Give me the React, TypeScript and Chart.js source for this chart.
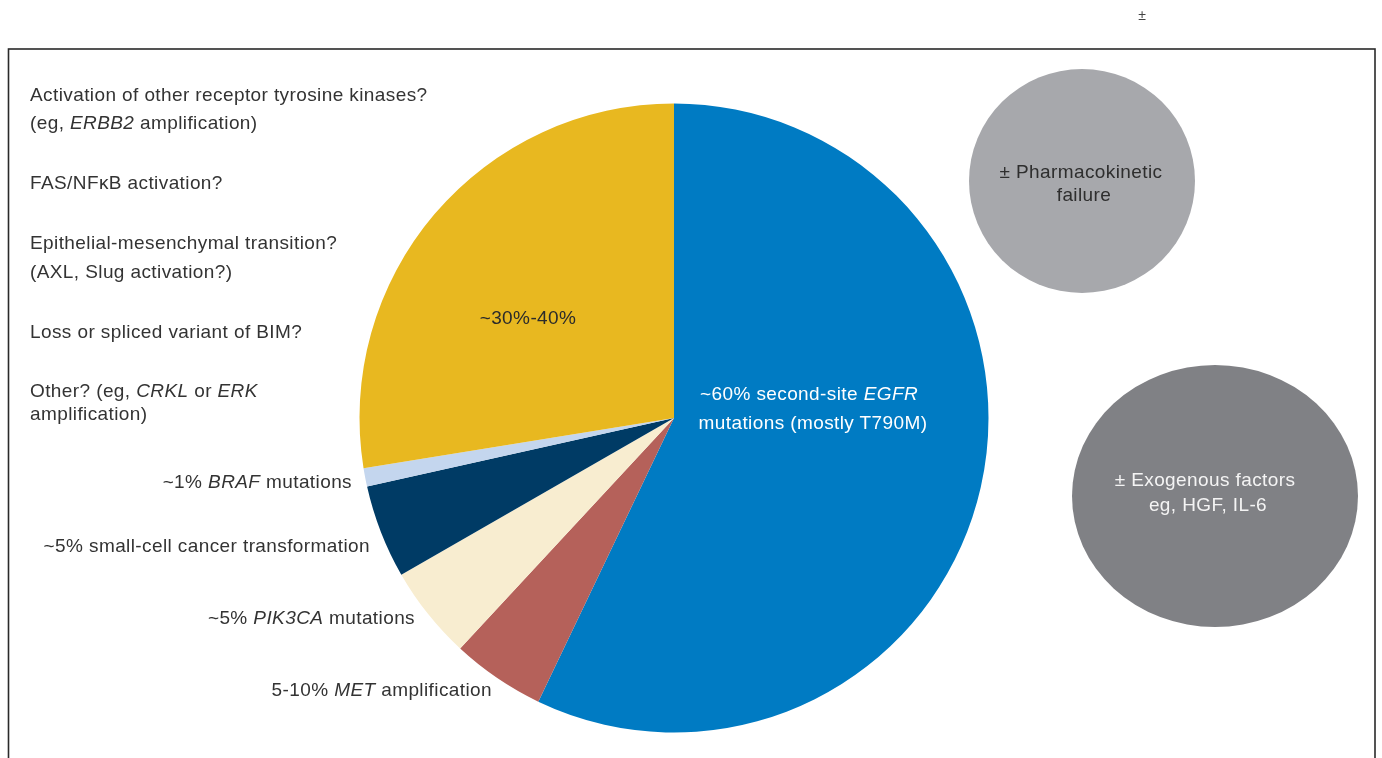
import React, { useEffect, useRef } from "react";
import { Chart, registerables } from "chart.js";

Chart.register(...registerables);

// ---- data ----
const sliceLabels = [
  "Second-site EGFR mutations (mostly T790M)",
  "MET amplification",
  "PIK3CA mutations",
  "Small-cell cancer transformation",
  "BRAF mutations",
  "Unknown (~30%-40%)",
];
const sliceValues = [57.1, 4.8, 4.8, 4.8, 0.95, 27.55];
const sliceColors = ["#007BC3", "#B5615A", "#F8EDD0", "#003B65", "#C4D6EE", "#E8B820"];

const FONT = '"Liberation Sans", Arial, sans-serif';

type Label = { html: string; x: number; y: number; align: "left" | "right" | "center"; color?: string; size?: number };

const annotations: Label[] = [
  { html: "Activation of other receptor tyrosine kinases?", x: 30, y: 95, align: "left" },
  { html: "(eg, <i>ERBB2</i> amplification)", x: 30, y: 123, align: "left" },
  { html: "FAS/NF\u03BAB activation?", x: 30, y: 183, align: "left" },
  { html: "Epithelial-mesenchymal transition?", x: 30, y: 243, align: "left" },
  { html: "(AXL, Slug activation?)", x: 30, y: 272, align: "left" },
  { html: "Loss or spliced variant of BIM?", x: 30, y: 332, align: "left" },
  { html: "Other? (eg, <i>CRKL</i> or <i>ERK</i>", x: 30, y: 391, align: "left" },
  { html: "amplification)", x: 30, y: 414, align: "left" },
  { html: "~1% <i>BRAF</i> mutations", x: 352, y: 482, align: "right" },
  { html: "~5% small-cell cancer transformation", x: 370, y: 546, align: "right" },
  { html: "~5% <i>PIK3CA</i> mutations", x: 415, y: 618, align: "right" },
  { html: "5-10% <i>MET</i> amplification", x: 492, y: 690, align: "right" },
  { html: "~30%-40%", x: 528, y: 318, align: "center", color: "#2b2b2b" },
  { html: "~60% second-site <i>EGFR</i>", x: 809, y: 394, align: "center", color: "#ffffff" },
  { html: "mutations (mostly T790M)", x: 813, y: 423, align: "center", color: "#ffffff" },
  { html: "\u00B1 Pharmacokinetic", x: 1081, y: 172, align: "center", color: "#2e2e2e" },
  { html: "failure", x: 1084, y: 195, align: "center", color: "#2e2e2e" },
  { html: "\u00B1 Exogenous factors", x: 1205, y: 480, align: "center", color: "#f4f4f4" },
  { html: "eg, HGF, IL-6", x: 1208, y: 505, align: "center", color: "#f4f4f4" },
  { html: "\u00B1", x: 1142, y: 15, align: "center", color: "#444", size: 14 },
];

const bubbles = [
  { cx: 1082, cy: 181, rx: 113, ry: 112, color: "#A7A8AC" },
  { cx: 1215, cy: 496, rx: 143, ry: 131, color: "#808185" },
];

const decorPlugin = {
  id: "decor",
  beforeDatasetsDraw(chart: any) {
    const ctx = chart.ctx as CanvasRenderingContext2D;
    ctx.save();
    ctx.strokeStyle = "#2a2a2a";
    ctx.lineWidth = 1.6;
    ctx.strokeRect(8.5, 49, 1366.5, 800);
    for (const b of bubbles) {
      ctx.beginPath();
      ctx.ellipse(b.cx, b.cy, b.rx, b.ry, 0, 0, Math.PI * 2);
      ctx.fillStyle = b.color;
      ctx.fill();
    }
    ctx.restore();
  },
};

export default function App() {
  const ref = useRef<HTMLCanvasElement>(null);
  useEffect(() => {
    if (!ref.current) return;
    const chart = new Chart(ref.current, {
      type: "pie",
      data: {
        labels: sliceLabels,
        datasets: [
          {
            data: sliceValues,
            backgroundColor: sliceColors,
            borderWidth: 0,
          },
        ],
      },
      options: {
        animation: false,
        responsive: false,
        rotation: 0,
        layout: { padding: { left: 359.5, right: 393.5, top: 103.5, bottom: 25.5 } },
        plugins: { legend: { display: false }, tooltip: { enabled: false } },
      },
      plugins: [decorPlugin],
    });
    return () => chart.destroy();
  }, []);

  return (
    <div style={{ position: "fixed", left: 0, top: 0, width: 1382, height: 758, background: "#fff", overflow: "hidden" }}>
      <canvas ref={ref} width={1382} height={758} style={{ position: "absolute", left: 0, top: 0 }} />
      {annotations.map((a, i) => {
        const style: React.CSSProperties = {
          position: "absolute",
          top: a.y - 11,
          lineHeight: "22px",
          whiteSpace: "nowrap",
          fontFamily: FONT,
          fontSize: a.size ?? 19,
          letterSpacing: a.size ? 0 : 0.4,
          color: a.color ?? "#333333",
        };
        if (a.align === "left") style.left = a.x;
        else if (a.align === "right") style.right = 1382 - a.x;
        else {
          style.left = a.x;
          style.transform = "translateX(-50%)";
        }
        return <div key={i} style={style} dangerouslySetInnerHTML={{ __html: a.html }} />;
      })}
    </div>
  );
}
